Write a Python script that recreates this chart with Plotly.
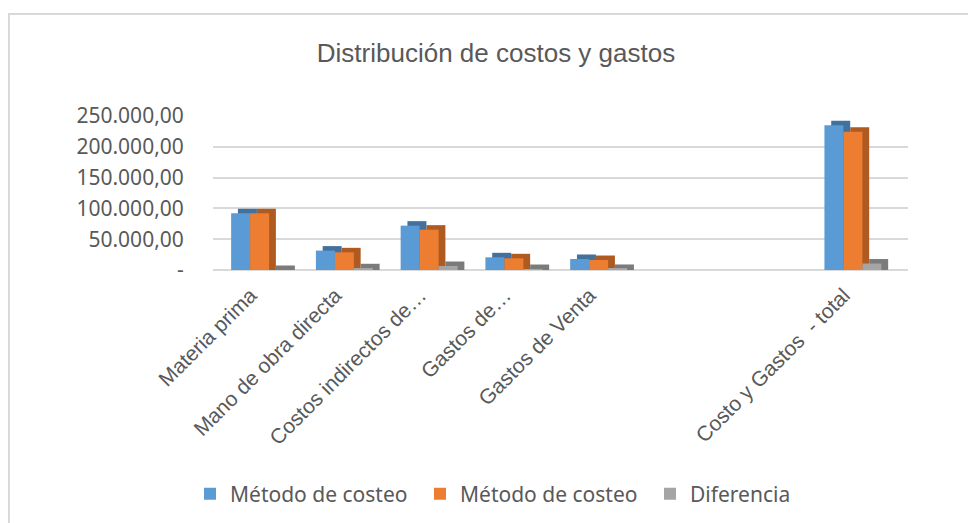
import plotly.graph_objects as go

# ---- data -------------------------------------------------------------
categories = [
    "Materia prima",
    "Mano de obra directa",
    "Costos indirectos de…",
    "Gastos de…",
    "Gastos de Venta",
    "",
    "",
    "Costo y Gastos \u00a0- total",
]
metodo_a = [92000, 31500, 72000, 20600, 17900, None, None, 235000]
metodo_b = [92000, 28700, 65500, 19000, 16200, None, None, 224500]
diferencia = [0, 2800, 6500, 1600, 1700, None, None, 10500]

series_names = ["Método de costeo", "Método de costeo", "Diferencia"]
tick_vals = [0, 50000, 100000, 150000, 200000, 250000]
tick_text = ["-", "50.000,00", "100.000,00", "150.000,00", "200.000,00", "250.000,00"]

# ---- styling ----------------------------------------------------------
W, H = 968, 523
M_L, M_R, M_T, M_B = 213, 60, 116, 253
PLOT_W = W - M_L - M_R
PLOT_H = H - M_T - M_B

face_colors = ["#5B9BD5", "#ED7D31", "#A5A5A5"]
side_colors = ["#41719C", "#AE5A21", "#7B7B7B"]
text_color = "#595959"
grid_color = "#D9D9D9"

bar_w = 0.224          # width of each bar face (category units)
depth_x = 0.08         # horizontal extrusion of the pseudo-3D side
depth_y = 7300         # vertical extrusion of the pseudo-3D top
offsets = [-0.336, -0.112, 0.112]

x_pos = list(range(len(categories)))


def px_x(px):
    return (px - M_L) / PLOT_W


def px_y(py):
    return (H - M_B - py) / PLOT_H


fig = go.Figure()

for vals, name, face, side, off in zip(
    [metodo_a, metodo_b, diferencia], series_names, face_colors, side_colors, offsets
):
    # darker extrusion behind the face gives a 3-D look
    fig.add_trace(go.Bar(
        x=x_pos,
        y=[None if v is None else v + depth_y for v in vals],
        width=bar_w, offset=off + depth_x,
        marker=dict(color=side, line=dict(width=0)),
        showlegend=False, hoverinfo="skip",
    ))
    fig.add_trace(go.Bar(
        x=x_pos, y=vals, name=name,
        width=bar_w, offset=off,
        marker=dict(color=face, line=dict(width=0)),
    ))

fig.update_layout(
    width=W, height=H,
    barmode="overlay",
    paper_bgcolor="white", plot_bgcolor="white",
    margin=dict(l=M_L, r=M_R, t=M_T, b=M_B, autoexpand=False),
    title=dict(
        text="Distribución de costos y gastos",
        font=dict(family="Liberation Sans, Arial", size=26, color=text_color),
        xref="container", yref="container",
        x=496 / W, y=1 - 53 / H, xanchor="center", yanchor="middle",
    ),
    xaxis=dict(
        range=[-0.55, 7.65],
        tickmode="array", tickvals=x_pos, ticktext=categories,
        tickangle=-45,
        tickfont=dict(family="Liberation Sans, Arial", size=21, color=text_color),
        ticks="", ticklabelstandoff=8, ticklabelshift=-9,
        showgrid=False, zeroline=False, showline=False,
    ),
    yaxis=dict(
        range=[0, 250000],
        tickmode="array", tickvals=tick_vals, ticktext=tick_text,
        tickfont=dict(family="Noto Sans", size=21, color=text_color),
        ticks="outside", ticklen=24, tickcolor="rgba(0,0,0,0)",
        showgrid=True, gridcolor=grid_color, gridwidth=1.5,
        zeroline=True, zerolinecolor=grid_color, zerolinewidth=1.5,
        showline=False,
    ),
    legend=dict(
        orientation="h",
        xref="container", yref="container",
        x=190 / W, y=1 - 494 / H, xanchor="left", yanchor="middle",
        font=dict(family="Noto Sans", size=21, color=text_color),
        itemwidth=30,
        entrywidth=185, entrywidthmode="pixels",
    ),
    shapes=[
        # chart area frame
        dict(type="rect", xref="paper", yref="paper",
             x0=px_x(9), x1=px_x(990), y0=px_y(540), y1=px_y(14),
             line=dict(color=grid_color, width=2), fillcolor="rgba(0,0,0,0)",
             layer="below"),
    ],
)

fig.write_html("out.html")
